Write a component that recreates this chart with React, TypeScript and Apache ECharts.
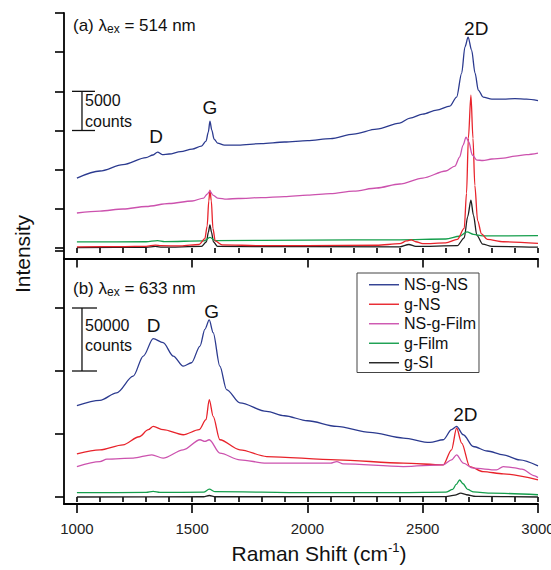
import React, { useEffect, useRef } from 'react';
import * as echarts from 'echarts';

const FONT = '"Liberation Sans", Arial, Helvetica, sans-serif';

const seriesNames = ['NS-g-NS', 'g-NS', 'NS-g-Film', 'g-Film', 'g-SI'];
const seriesColors = ['#2b3a8f', '#e8232b', '#cc52ae', '#159e4c', '#1e1e1e'];

// x axis ticks (Raman shift, cm^-1)
const majorShifts = [1000, 1500, 2000, 2500, 3000];
const minorShifts = [1000, 1100, 1200, 1300, 1400, 1500, 1600, 1700, 1800, 1900, 2000, 2100, 2200, 2300, 2400, 2500, 2600, 2700, 2800, 2900, 3000];
// y ticks (counts)
const topTicks = [-380, 0, 5000, 10000, 15000, 20000, 25000, 30000];
const botTicks = [0, 50000, 100000, 150000];

// (a) 514 nm
const topNSgNS = [[1000, 8930], [1100, 9830], [1200, 10650], [1300, 11550], [1330, 11870], [1350, 12250], [1370, 11930], [1400, 12000], [1450, 12310], [1500, 12630], [1540, 13015], [1560, 13650], [1570, 14800], [1577, 16200], [1585, 15060], [1595, 13910], [1610, 13400], [1640, 13140], [1700, 13140], [1800, 13330], [1900, 13530], [2000, 13720], [2100, 13970], [2200, 14550], [2300, 15180], [2400, 15950], [2445, 16590], [2500, 17100], [2560, 17610], [2618, 18120], [2647, 19270], [2669, 22330], [2683, 25650], [2697, 26920], [2712, 25260], [2727, 22330], [2741, 20160], [2762, 19270], [2800, 19010], [2850, 19010], [2900, 19080], [2950, 19010], [3000, 18820]];
const topGNS = [[1000, 150], [1200, 180], [1300, 220], [1340, 380], [1365, 300], [1450, 260], [1530, 450], [1555, 1200], [1565, 2800], [1572, 6000], [1577, 7400], [1583, 6000], [1590, 2500], [1600, 900], [1630, 400], [1800, 300], [2000, 300], [2300, 350], [2400, 550], [2430, 900], [2450, 1050], [2470, 800], [2500, 550], [2600, 650], [2650, 1100], [2680, 2500], [2690, 7000], [2698, 14000], [2709, 19500], [2718, 14000], [2726, 8000], [2738, 3500], [2755, 1800], [2780, 1100], [2850, 800], [3000, 600]];
const topNSgFilm = [[1000, 4470], [1100, 4720], [1200, 4980], [1300, 5300], [1400, 5680], [1500, 6000], [1550, 6380], [1565, 6890], [1577, 7270], [1590, 6760], [1610, 6380], [1650, 6250], [1700, 6320], [1800, 6440], [1900, 6570], [2000, 6760], [2100, 6950], [2200, 7270], [2300, 7660], [2400, 8170], [2500, 8930], [2600, 9830], [2640, 10460], [2660, 11610], [2675, 13140], [2688, 14160], [2700, 13530], [2715, 11870], [2735, 11230], [2760, 11170], [2800, 11360], [2850, 11480], [2900, 11740], [2950, 11930], [3000, 12120]];
const topGFilm = [[1000, 770], [1300, 800], [1350, 950], [1380, 820], [1550, 900], [1577, 1350], [1600, 950], [2000, 1000], [2400, 1050], [2600, 1150], [2660, 1500], [2692, 2050], [2720, 1750], [2760, 1550], [3000, 1570]];
const topGSi = [[1000, 50], [1300, 80], [1340, 200], [1370, 100], [1540, 200], [1562, 800], [1570, 2000], [1577, 2950], [1584, 2000], [1592, 800], [1610, 200], [2400, 150], [2440, 450], [2470, 200], [2650, 300], [2680, 1300], [2695, 4000], [2709, 6100], [2720, 4200], [2735, 1600], [2760, 500], [2800, 200], [3000, 100]];

// (b) 633 nm
const botNSgNS = [[1000, 72530], [1100, 76750], [1172, 82650], [1244, 95880], [1288, 111820], [1331, 125690], [1374, 122500], [1418, 111820], [1461, 103850], [1497, 106560], [1534, 119790], [1555, 133100], [1574, 140510], [1591, 130470], [1620, 103850], [1649, 85280], [1707, 74680], [1823, 67980], [1900, 64500], [2000, 60500], [2127, 56030], [2271, 51250], [2416, 46780], [2531, 43280], [2589, 45430], [2625, 53400], [2647, 56030], [2676, 49410], [2719, 40090], [2780, 36500], [2849, 33470], [2920, 29500], [3000, 24710]];
const botGNS = [[1000, 34270], [1100, 37460], [1200, 41440], [1270, 47820], [1310, 53400], [1331, 56030], [1374, 53400], [1461, 49410], [1530, 53400], [1560, 61370], [1574, 77310], [1591, 64000], [1620, 45430], [1707, 37460], [1823, 32120], [2127, 29490], [2416, 26860], [2589, 25500], [2625, 37460], [2647, 54750], [2669, 42800], [2704, 24150], [2762, 20160], [2850, 18330], [3000, 13550]];
const botNSgFilm = [[1000, 24150], [1100, 28130], [1130, 30050], [1244, 30840], [1325, 33470], [1374, 30840], [1461, 37460], [1534, 45430], [1555, 44070], [1574, 45430], [1620, 34830], [1707, 29490], [1823, 26860], [2100, 26860], [2127, 28130], [2155, 26300], [2416, 24150], [2589, 25500], [2625, 29490], [2647, 33470], [2676, 26860], [2719, 22870], [2820, 21520], [2849, 24150], [2900, 23110], [2930, 22080], [2986, 16740], [3000, 15380]];
const botGFilm = [[1000, 3400], [1300, 3600], [1331, 4400], [1360, 3600], [1550, 3800], [1574, 6200], [1600, 4200], [2000, 3400], [2400, 3400], [2600, 3800], [2630, 6000], [2645, 10000], [2660, 13500], [2675, 10500], [2695, 6000], [2720, 4000], [2800, 3000], [3000, 1800]];
const botGSi = [[1000, 0], [1550, 200], [1574, 1200], [1600, 200], [2600, 300], [2640, 1500], [2665, 3000], [2690, 1800], [2730, 500], [3000, 0]];

const topData = [topNSgNS, topGNS, topNSgFilm, topGFilm, topGSi];
const botData = [botNSgNS, botGNS, botNSgFilm, botGFilm, botGSi];

// peak annotations: [label, shift, counts]
const topPeaks: [string, number, number][] = [['D', 1343, 14220], ['G', 1577, 17920], ['2D', 2732, 28020]];
const botPeaks: [string, number, number][] = [['D', 1333, 136500], ['G', 1584, 147100], ['2D', 2685, 65100]];

// scale bars: [shift, from, to]
const topScale = [1022, 15000, 20000];
const botScale = [1022, 100000, 150000];
const topScaleText = '5000';
const botScaleText = '50000';

export default function App() {
  const ref = useRef<HTMLDivElement>(null);
  useEffect(() => {
    const chart = echarts.init(ref.current!, null, { renderer: 'svg' });
    const axisLine = { show: true, onZero: false, lineStyle: { color: '#000', width: 1.8 } };
    const mkX = (grid: number, major: boolean, labels: boolean) => ({
      type: 'value', gridIndex: grid, min: 944, max: 3000, position: 'bottom',
      axisLine: major ? axisLine : { show: false },
      axisTick: { show: true, inside: false, customValues: major ? majorShifts : minorShifts, length: major ? 9 : 5, lineStyle: { color: '#000', width: 1.6 } },
      axisLabel: labels ? { show: true, customValues: majorShifts, fontSize: 15, fontFamily: FONT, color: '#222', margin: 17, formatter: (v: number) => String(v) } : { show: false },
      splitLine: { show: false }, minorTick: { show: false }, minorSplitLine: { show: false },
    });
    const mkY = (grid: number, min: number, max: number, ticks: number[]) => ({
      type: 'value', gridIndex: grid, min, max, position: 'left',
      axisLine,
      axisTick: { show: true, inside: false, customValues: ticks, length: 9, lineStyle: { color: '#000', width: 1.6 } },
      axisLabel: { show: false }, splitLine: { show: false },
    });
    const series: any[] = [];
    const order = [4, 3, 1, 2, 0];
    order.forEach((i) => {
      series.push({
        type: 'line', name: seriesNames[i], xAxisIndex: 0, yAxisIndex: 0, data: topData[i],
        symbol: 'none', showSymbol: false, smooth: 0.3, smoothMonotone: 'x',
        lineStyle: { color: seriesColors[i], width: 1.3 }, itemStyle: { color: seriesColors[i] },
      });
    });
    order.forEach((i) => {
      series.push({
        type: 'line', name: seriesNames[i], xAxisIndex: 2, yAxisIndex: 1, data: botData[i],
        symbol: 'none', showSymbol: false, smooth: 0.3, smoothMonotone: 'x',
        lineStyle: { color: seriesColors[i], width: 1.3 }, itemStyle: { color: seriesColors[i] },
      });
    });
    chart.setOption({
      animation: false,
      backgroundColor: '#fff',
      grid: [
        { left: 64, top: 13, width: 474, height: 245.5, containLabel: false, outerBoundsMode: 'none' },
        { left: 64, top: 258.5, width: 474, height: 245.5, containLabel: false, outerBoundsMode: 'none' },
      ],
      xAxis: [mkX(0, true, false), mkX(0, false, false), mkX(1, true, true), mkX(1, false, false)],
      yAxis: [mkY(0, -1340, 30000, topTicks), mkY(1, -5556, 189290, botTicks)],
      legend: {
        show: true, orient: 'vertical', left: 357, top: 273, padding: [2, 3, 0, 12], itemGap: 0,
        icon: 'rect', itemWidth: 30, itemHeight: 1.4, borderColor: '#444', borderWidth: 1, backgroundColor: '#fff',
        textStyle: { fontSize: 16, fontFamily: FONT, color: '#111', lineHeight: 19.5 },
        data: seriesNames,
      },
      series,
    });

    const topIdx = 0; // series index in top grid
    const botIdx = 5;
    const px = (si: number, x: number, y: number) => chart.convertToPixel({ seriesIndex: si }, [x, y]) as number[];
    const graphic: any[] = [];
    const txt = (x: number, y: number, text: string, size: number, align = 'center') => ({
      type: 'text', x, y, silent: true,
      style: { text, fontSize: size, fontFamily: FONT, fill: '#111', align, verticalAlign: 'middle' },
    });
    topPeaks.forEach(([l, x, y]) => { const p = px(topIdx, x, y); graphic.push(txt(p[0], p[1], l, 19)); });
    botPeaks.forEach(([l, x, y]) => { const p = px(botIdx, x, y); graphic.push(txt(p[0], p[1], l, 19)); });
    const bar = (si: number, s: number[], capR: number, label: string, off1: number, off2: number) => {
      const a = px(si, s[0], s[1]);
      const b = px(si, s[0], s[2]);
      const ls = { stroke: '#111', lineWidth: 1.3 };
      graphic.push({ type: 'line', silent: true, shape: { x1: a[0], y1: a[1], x2: b[0], y2: b[1] }, style: ls });
      graphic.push({ type: 'line', silent: true, shape: { x1: a[0] - 10, y1: a[1], x2: a[0] + capR, y2: a[1] }, style: ls });
      graphic.push({ type: 'line', silent: true, shape: { x1: b[0] - 10, y1: b[1], x2: b[0] + capR, y2: b[1] }, style: ls });
      graphic.push(txt(b[0] + 3, b[1] + off1, label, 16, 'left'));
      graphic.push(txt(b[0] + 3, b[1] + off2, 'counts', 16, 'left'));
    };
    bar(topIdx, topScale, 13, topScaleText, 9.5, 30);
    bar(botIdx, botScale, 15, botScaleText, 17, 37);
    const rich = {
      n: { fontSize: 17, fontFamily: FONT, fill: '#111', color: '#111', lineHeight: 20 },
      s: { fontSize: 12, fontFamily: FONT, fill: '#111', color: '#111', lineHeight: 12, verticalAlign: 'bottom' },
    };
    graphic.push({ type: 'text', x: 73, y: 25, silent: true, style: { text: '{n|(a) λ}{s|ex}{n| = 514 nm}', rich, verticalAlign: 'middle' } });
    graphic.push({ type: 'text', x: 73, y: 288, silent: true, style: { text: '{n|(b) λ}{s|ex}{n| = 633 nm}', rich, verticalAlign: 'middle' } });
    graphic.push({
      type: 'text', x: 319, y: 553, silent: true,
      style: {
        text: '{a|Raman Shift (cm}{s|-1}{a|)}', align: 'center', verticalAlign: 'middle',
        rich: {
          a: { fontSize: 21, fontFamily: FONT, fill: '#111', color: '#111', lineHeight: 24 },
          s: { fontSize: 13, fontFamily: FONT, fill: '#111', color: '#111', lineHeight: 13, verticalAlign: 'top' },
        },
      },
    });
    graphic.push({
      type: 'text', x: 22, y: 254, rotation: Math.PI / 2, silent: true,
      style: { text: 'Intensity', fontSize: 21, fontFamily: FONT, fill: '#111', align: 'center', verticalAlign: 'middle' },
    });
    chart.setOption({ graphic });
    return () => chart.dispose();
  }, []);
  return <div ref={ref} style={{ position: 'absolute', left: 0, top: 0, width: 551, height: 570 }} />;
}
